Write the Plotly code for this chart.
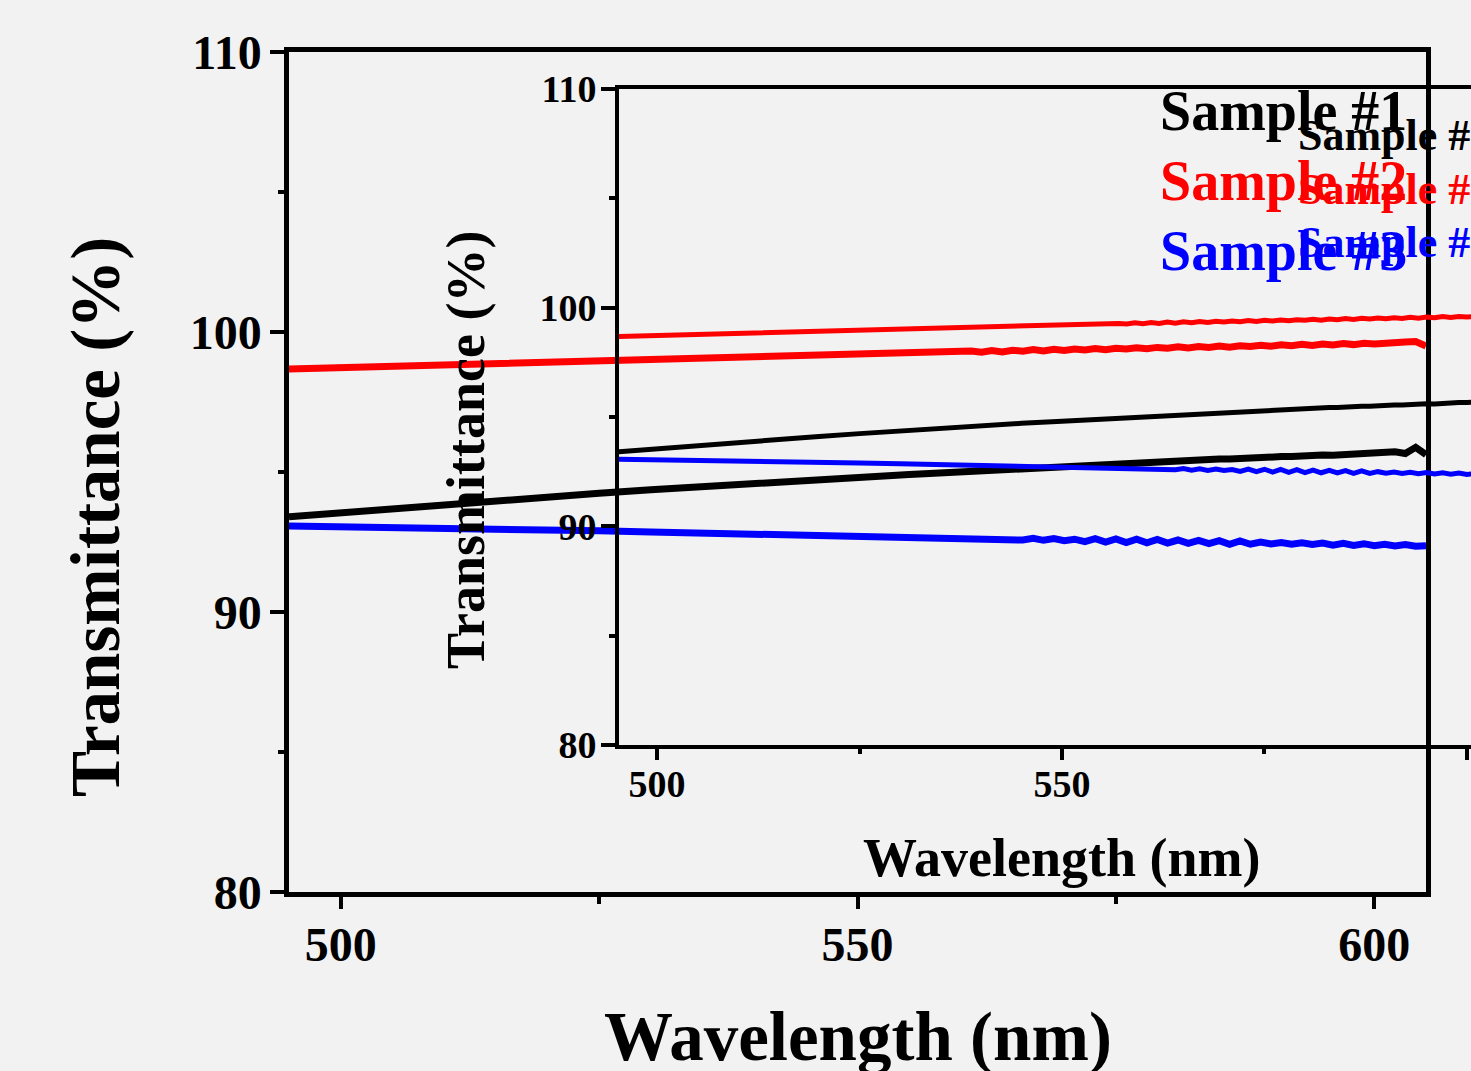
import plotly.graph_objects as go

# ---------------- data ----------------
wavelength = [495, 500, 505, 510, 515, 520, 525, 530, 535, 540, 545, 550, 555,
              556, 557, 558, 559, 560, 561, 562, 563, 564, 565, 566, 567, 568, 569,
              570, 571, 572, 573, 574, 575, 576, 577, 578, 579, 580, 581, 582, 583,
              584, 585, 586, 587, 588, 589, 590, 591, 592, 593, 594, 595, 596, 597,
              598, 599, 600, 601, 602, 603, 604, 605]

sample1 = [93.40, 93.55, 93.69, 93.83, 93.97, 94.11, 94.24, 94.37, 94.49, 94.60, 94.71, 94.81, 94.91,
           94.93, 94.95, 94.97, 94.99, 95.01, 95.03, 95.05, 95.07, 95.09, 95.11, 95.13, 95.15, 95.16, 95.18,
           95.20, 95.23, 95.23, 95.26, 95.26, 95.30, 95.30, 95.33, 95.33, 95.37, 95.36, 95.40, 95.40, 95.43,
           95.43, 95.46, 95.46, 95.49, 95.49, 95.52, 95.52, 95.55, 95.55, 95.58, 95.57, 95.61, 95.60, 95.63,
           95.63, 95.66, 95.66, 95.70, 95.72, 95.66, 95.88, 95.62]

sample2 = [98.68, 98.73, 98.78, 98.83, 98.88, 98.92, 98.97, 99.02, 99.06, 99.11, 99.16, 99.20, 99.25,
           99.26, 99.28, 99.25, 99.31, 99.27, 99.32, 99.28, 99.34, 99.29, 99.35, 99.31, 99.37, 99.32, 99.38,
           99.34, 99.39, 99.36, 99.41, 99.37, 99.42, 99.39, 99.44, 99.40, 99.45, 99.42, 99.47, 99.43, 99.48,
           99.45, 99.50, 99.46, 99.51, 99.48, 99.53, 99.49, 99.54, 99.51, 99.56, 99.52, 99.57, 99.54, 99.59,
           99.55, 99.60, 99.57, 99.61, 99.59, 99.64, 99.66, 99.50]

sample3 = [93.07, 93.05, 93.02, 92.99, 92.96, 92.93, 92.90, 92.86, 92.82, 92.78, 92.74, 92.70, 92.67,
           92.66, 92.67, 92.64, 92.66, 92.63, 92.64, 92.62, 92.64, 92.59, 92.64, 92.57, 92.63, 92.56, 92.62,
           92.55, 92.60, 92.51, 92.62, 92.50, 92.61, 92.48, 92.60, 92.47, 92.59, 92.46, 92.57, 92.45, 92.56,
           92.44, 92.55, 92.42, 92.54, 92.42, 92.50, 92.43, 92.48, 92.42, 92.47, 92.41, 92.46, 92.39, 92.45,
           92.38, 92.44, 92.37, 92.42, 92.36, 92.41, 92.35, 92.37]

series_names = ["Sample #1", "Sample #2", "Sample #3"]
series_colors = ["#000000", "#ff0000", "#0000ff"]
series_values = [sample1, sample2, sample3]

x_ticks = [500, 550, 600]
y_ticks = [80, 90, 100, 110]

W, H = 1471, 1071
FONT = "Liberation Serif"


def px_x(p):
    return p / W


def px_y(p):
    return 1 - p / H


fig = go.Figure()

for name, col, vals in zip(series_names, series_colors, series_values):
    fig.add_trace(go.Scatter(x=wavelength, y=vals, mode="lines", name=name,
                             line=dict(color=col, width=7), showlegend=False,
                             xaxis="x", yaxis="y"))
for name, col, vals in zip(series_names, series_colors, series_values):
    fig.add_trace(go.Scatter(x=wavelength, y=vals, mode="lines", name=name,
                             line=dict(color=col, width=5), showlegend=False,
                             xaxis="x2", yaxis="y2"))


def axis_common(lw, tlen, mlen, fsize):
    return dict(showline=True, linecolor="black", linewidth=lw, mirror=True,
                ticks="outside", ticklen=tlen, tickwidth=4, tickcolor="black",
                showgrid=False, zeroline=False, automargin=False,
                tickfont=dict(family=FONT, size=fsize, color="black", weight="bold"),
                minor=dict(ticks="outside", ticklen=mlen, tickwidth=4, tickcolor="black",
                           showgrid=False))


xa = axis_common(4.5, 12, 7, 48)
xa.update(domain=[px_x(289), px_x(1426)], range=[495, 605], tickvals=x_ticks,
          anchor="y", ticklabelstandoff=-5)
xa["minor"].update(tickvals=[525, 575])
ya = axis_common(4.5, 14, 6, 48)
ya.update(domain=[px_y(892), px_y(52)], range=[80, 110], tickvals=y_ticks,
          anchor="x", ticklabelstandoff=-1)
ya["minor"].update(tickvals=[85, 95, 105])

xa2 = axis_common(4, 11, 5, 38)
xa2.update(domain=[px_x(619), 1.0], range=[495.3, 600.5], tickvals=x_ticks,
           anchor="y2", ticklabelstandoff=-9)
xa2["minor"].update(tickvals=[525, 575])
ya2 = axis_common(4, 14, 6, 38)
ya2.update(domain=[px_y(745), px_y(89)], range=[80, 110], tickvals=y_ticks,
           anchor="x2", ticklabelstandoff=-3)
ya2["minor"].update(tickvals=[85, 95, 105])

annotations = [
    dict(text="Wavelength (nm)", x=px_x(858), y=px_y(1037), xref="paper", yref="paper",
         showarrow=False, xanchor="center", yanchor="middle",
         font=dict(family=FONT, size=69, color="black", weight="bold")),
    dict(text="Transmittance (%)", x=px_x(96), y=px_y(517), xref="paper", yref="paper",
         showarrow=False, xanchor="center", yanchor="middle", textangle=-90,
         font=dict(family=FONT, size=69, color="black", weight="bold")),
    dict(text="Wavelength (nm)", x=px_x(1062), y=px_y(858), xref="paper", yref="paper",
         showarrow=False, xanchor="center", yanchor="middle",
         font=dict(family=FONT, size=54, color="black", weight="bold")),
    dict(text="Transmittance (%)", x=px_x(466), y=px_y(450), xref="paper", yref="paper",
         showarrow=False, xanchor="center", yanchor="middle", textangle=-90,
         font=dict(family=FONT, size=54, color="black", weight="bold")),
]

main_leg_y = [111, 181, 251]
inset_leg_y = [135, 189, 243]
for name, col, yy in zip(series_names, series_colors, main_leg_y):
    annotations.append(dict(text=name, x=px_x(1158), y=px_y(yy), xref="paper", yref="paper",
                            showarrow=False, xanchor="left", yanchor="middle",
                            font=dict(family=FONT, size=56, color=col, weight="bold")))
for name, col, yy in zip(series_names, series_colors, inset_leg_y):
    annotations.append(dict(text=name, x=px_x(1296), y=px_y(yy), xref="paper", yref="paper",
                            showarrow=False, xanchor="left", yanchor="middle",
                            font=dict(family=FONT, size=44, color=col, weight="bold")))

fig.update_layout(
    width=W, height=H,
    margin=dict(l=0, r=0, t=0, b=0, pad=0, autoexpand=False),
    paper_bgcolor="#f2f2f2", plot_bgcolor="rgba(0,0,0,0)",
    xaxis=xa, yaxis=ya, xaxis2=xa2, yaxis2=ya2,
    annotations=annotations,
    showlegend=False,
)

post = ("document.documentElement.style.margin='0';"
        "document.documentElement.style.padding='0';"
        "document.documentElement.style.overflow='hidden';"
        "document.body.style.margin='0';document.body.style.padding='0';"
        "document.body.style.overflow='hidden';"
        "document.body.style.background='#f2f2f2';")

fig.write_html("out.html", post_script=post, config={"displayModeBar": False})
